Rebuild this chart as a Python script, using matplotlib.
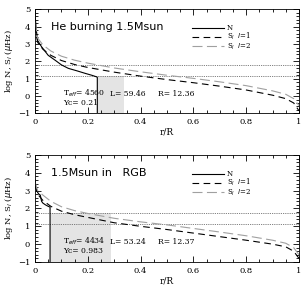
import matplotlib.pyplot as plt

# r/R grid shared by the S_l curves
r_s = [0.0, 0.01, 0.03, 0.06, 0.1, 0.15, 0.2, 0.3, 0.4, 0.5, 0.6, 0.7, 0.8, 0.9, 0.95, 0.98, 1.0]

# He burning model
r_n_he = [0.0, 0.005, 0.01, 0.025, 0.05, 0.076, 0.1, 0.126, 0.16, 0.19, 0.215, 0.233, 0.236, 0.236]
n_he = [4.7, 3.8, 3.2, 2.84, 2.35, 2.07, 1.8, 1.6, 1.45, 1.31, 1.2, 1.11, 1.08, -1.0]
s1_he = [4.0, 3.1, 2.7, 2.35, 2.05, 1.82, 1.65, 1.38, 1.15, 0.95, 0.77, 0.57, 0.35, 0.05, -0.15, -0.4, -0.85]
s2_he = [4.3, 3.35, 2.95, 2.6, 2.3, 2.07, 1.9, 1.62, 1.4, 1.2, 1.02, 0.82, 0.6, 0.3, 0.1, -0.15, -0.55]

# RGB model
r_n_rgb = [0.0, 0.004, 0.01, 0.015, 0.02, 0.025, 0.03, 0.04, 0.05, 0.057, 0.057]
n_rgb = [3.6, 3.1, 2.9, 2.8, 2.75, 2.4, 2.3, 2.2, 2.12, 2.08, -1.0]
s1_rgb = [3.3, 2.8, 2.45, 2.12, 1.85, 1.65, 1.5, 1.2, 1.0, 0.82, 0.62, 0.42, 0.22, 0.0, -0.15, -0.4, -0.8]
s2_rgb = [3.5, 3.0, 2.75, 2.4, 2.1, 1.88, 1.72, 1.45, 1.25, 1.08, 0.88, 0.68, 0.47, 0.22, 0.05, -0.2, -0.6]

panels = [
    dict(title="He burning 1.5Msun", rn=r_n_he, n=n_he, s1=s1_he, s2=s2_he,
         dots=(1.8, 1.15), box=(0.236, 0.337, 1.15),
         teff="4560", yc="0.21", L="59.46", R="12.36"),
    dict(title="1.5Msun in   RGB", rn=r_n_rgb, n=n_rgb, s1=s1_rgb, s2=s2_rgb,
         dots=(1.73, 1.15), box=(0.057, 0.288, 1.73),
         teff="4434", yc="0.983", L="53.24", R="12.37"),
]

plt.rcParams['font.family'] = ['DejaVu Serif']
fig = plt.figure(figsize=(3.06, 2.90), dpi=100)
rects = [[35/306, 0.609, 264/306, 0.3586], [35/306, 0.0966, 264/306, 0.369]]

for p, rect in zip(panels, rects):
    ax = fig.add_axes(rect)
    x0, x1, ytop = p["box"]
    ax.fill_between([x0, x1], -1, ytop, color="#e4e4e4", lw=0)
    for yd in p["dots"]:
        ax.axhline(yd, color="#555555", ls=(0, (1, 1.2)), lw=0.6)
    hn, = ax.plot(p["rn"], p["n"], color="black", lw=0.8)
    h1, = ax.plot(r_s, p["s1"], color="black", lw=0.8, ls=(0, (6, 4)))
    h2, = ax.plot(r_s, p["s2"], color="#a0a0a0", lw=0.8, ls=(0, (9, 4)))
    ax.set_xlim(0, 1)
    ax.set_ylim(-1, 5)
    ax.set_xticks([0, 0.2, 0.4, 0.6, 0.8, 1])
    ax.set_xticklabels(["0", "0.2", "0.4", "0.6", "0.8", "1"])
    ax.set_xticks([i * 0.05 for i in range(21)], minor=True)
    ax.set_yticks(range(-1, 6))
    ax.set_yticks([-1 + i * 0.2 for i in range(31)], minor=True)
    ax.tick_params(which="both", direction="in", top=True, right=True, labelsize=6, width=0.6)
    ax.tick_params(which="major", length=4)
    ax.tick_params(which="minor", length=2)
    for s in ax.spines.values():
        s.set_linewidth(0.6)
    ax.set_xlabel("r/R", fontsize=6.5, labelpad=1)
    ax.set_ylabel(r"log N, S$_l$ ($\mu$Hz)", fontsize=6, labelpad=2)
    ax.text(0.06, 0.80, p["title"], transform=ax.transAxes, fontsize=8, family="DejaVu Sans")
    ax.legend([hn, h1, h2], ["N", r"S$_l$  $l$=1", r"S$_l$  $l$=2"], loc="upper left",
              bbox_to_anchor=(0.58, 0.89), frameon=False, fontsize=5, handlelength=4.6,
              labelspacing=-0.15, handletextpad=0.5, borderpad=0)
    ax.text(0.105, 0.17, r"T$_{eff}$= " + p["teff"], transform=ax.transAxes, fontsize=5.5)
    ax.text(0.105, 0.08, "Yc= " + p["yc"], transform=ax.transAxes, fontsize=5.5)
    ax.text(0.285, 0.17, "L= " + p["L"], transform=ax.transAxes, fontsize=5.5)
    ax.text(0.465, 0.17, "R= " + p["R"], transform=ax.transAxes, fontsize=5.5)

fig.savefig("out.png", dpi=100)
